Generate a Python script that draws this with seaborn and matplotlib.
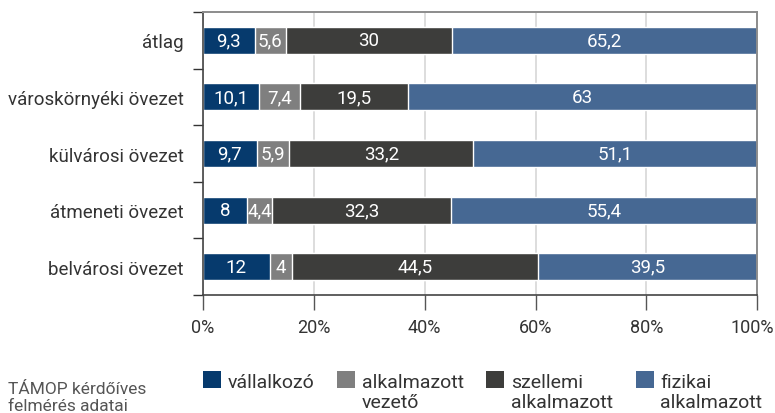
import numpy as np
import pandas as pd
import seaborn as sns
import matplotlib.pyplot as plt
import matplotlib.patches as mpatches
import matplotlib.transforms as mtransforms
from matplotlib.legend_handler import HandlerPatch
from matplotlib.ticker import FixedLocator

# data
categories = ["átlag", "városkörnyéki övezet", "külvárosi övezet",
              "átmeneti övezet", "belvárosi övezet"]
vallalkozo = [9.3, 10.1, 9.7, 8.0, 12.0]
vezeto = [5.6, 7.4, 5.9, 4.4, 4.0]
szellemi = [30.0, 19.5, 33.2, 32.3, 44.5]
fizikai = [65.2, 63.0, 51.1, 55.4, 39.5]

series_names = ["vállalkozó", "alkalmazott\nvezető",
                "szellemi\nalkalmazott", "fizikai\nalkalmazott"]
colors = ["#063a6d", "#7f7f7f", "#3d3d3b", "#466893"]
x_ticks = [0, 20, 40, 60, 80, 100]
source_text = "TÁMOP kérdőíves\nfelmérés adatai"

sns.set_theme(style="white")
plt.rcParams["font.family"] = ["Roboto", "DejaVu Sans"]

df = pd.DataFrame({"kategoria": categories, "v1": vallalkozo, "v2": vezeto,
                   "v3": szellemi, "v4": fizikai})
cols = ["v1", "v2", "v3", "v4"]
cum = df[cols].cumsum(axis=1)

fig = plt.figure(figsize=(7.75, 4.14), dpi=100)
ax = fig.add_axes([0.262, 0.285, 0.715, 0.6836])

ax.grid(axis="x", color="#dddddd", linewidth=1.4, zorder=0)
ax.set_axisbelow(True)

# stacked bars: draw the cumulative totals from largest to smallest
for col, color in reversed(list(zip(cols, colors))):
    sns.barplot(x=cum[col], y=df["kategoria"], orient="h", color=color,
                width=0.48, saturation=1, ax=ax, zorder=2)

# value labels, centred in the visible part of each segment
for i in range(len(df)):
    start = 0.0
    for col in cols:
        v = df.loc[i, col]
        end = min(start + v, 100)
        txt = f"{v:g}".replace(".", ",")
        ax.text((start + end) / 2, i, txt, ha="center", va="center",
                color="white", fontsize=13.5, zorder=5)
        start += v

ax.set_xlim(0, 100)
ax.set_ylim(len(categories) - 0.5, -0.5)
ax.set_xticks(x_ticks)
ax.set_xticklabels([f"{t}%" for t in x_ticks])
ax.set_xlabel("")
ax.set_ylabel("")

ax.yaxis.set_minor_locator(FixedLocator(np.arange(-0.5, len(categories), 1)))
ax.tick_params(axis="y", which="major", length=0, pad=14, labelsize=13.5,
               labelcolor="#333333")
ax.tick_params(axis="y", which="minor", length=7.5, width=1, color="#333333",
               left=True)
ax.tick_params(axis="x", which="major", length=10.5, width=1, color="#555555",
               bottom=True, pad=6, labelsize=13, labelcolor="#333333")

# keep the last x label inside the figure
last = ax.get_xticklabels()[-1]
last.set_transform(last.get_transform() +
                   mtransforms.ScaledTranslation(-5 / 100, 0, fig.dpi_scale_trans))

for side in ["left", "bottom"]:
    ax.spines[side].set_color("#444444")
    ax.spines[side].set_linewidth(1.2)
for side in ["top", "right"]:
    ax.spines[side].set_color("#8c8c8c")
    ax.spines[side].set_linewidth(1.4)


# legend: squares aligned with the first line of two-line labels
def square(legend, orig_handle, xdescent, ydescent, width, height, fontsize):
    return mpatches.Rectangle((-xdescent, -ydescent + 0.62 * fontsize),
                              0.93 * fontsize, 0.88 * fontsize)


handles = [mpatches.Patch(facecolor=c, edgecolor="none") for c in colors]
labels = [series_names[0] + "\n"] + series_names[1:]
fig.legend(handles, labels, loc="upper left", bbox_to_anchor=(0.262, 0.097),
           bbox_transform=fig.transFigure, ncol=4, frameon=False,
           fontsize=14, handlelength=0.93, handleheight=0.88,
           handletextpad=0.35, columnspacing=1.15, labelspacing=0,
           borderaxespad=0, borderpad=0,
           handler_map={mpatches.Patch: HandlerPatch(patch_func=square)})
for t in fig.legends[0].get_texts():
    t.set_color("#333333")
    t.set_linespacing(1.15)

fig.text(0.01, 0.0, source_text, fontsize=12.5, color="#555555",
         ha="left", va="bottom", linespacing=1.15)

fig.savefig("out.png", dpi=100)
